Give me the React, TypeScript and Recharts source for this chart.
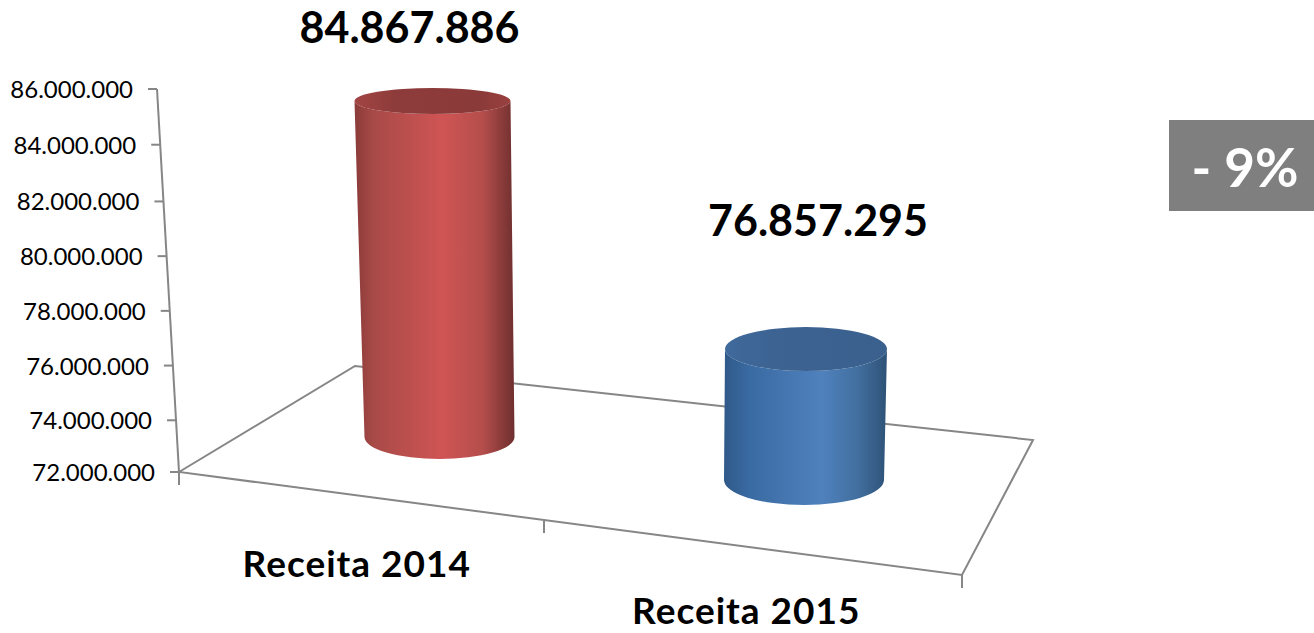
import React from "react";
import { BarChart, Bar, XAxis, YAxis, LabelList, Customized } from "recharts";

const categories = ["Receita 2014", "Receita 2015"];
const revenue = [84867886, 76857295];
const yTicks = [72000000, 74000000, 76000000, 78000000, 80000000, 82000000, 84000000, 86000000];
const badgeText = "- 9%";

const chartData = categories.map((name, i) => ({ name, value: revenue[i] }));

const FONT = "Lato, Carlito, sans-serif";
const fmt = (v: number) => String(v).replace(/\B(?=(\d{3})+(?!\d))/g, ".");

// Perspective placement of the 3D cylinders, relative to the scale-derived bar box
const projection = [
  { topDx: 58, baseDx: 65, topDy: -19, baseDy: -35, topRx: 78, baseRx: 75, topRy: 13, baseRy: 22, fill: "url(#redBody)", cap: "url(#redCap)" },
  { topDx: 40, baseDx: 38, topDy: 10, baseDy: 8, topRx: 81, baseRx: 80, topRy: 22, baseRy: 25, fill: "url(#blueBody)", cap: "url(#blueCap)" },
];
const labelPos = [{ dx: 35, baseline: 43 }, { dx: 52, baseline: 236 }];
const catLabelPos = [{ dx: -18, y: 577 }, { dx: -20, y: 624 }];

const Cylinder = (props: any) => {
  const { x, y, width, height, index } = props;
  const p = projection[index];
  const cx = x + width / 2;
  const tx = cx + p.topDx, bx = cx + p.baseDx;
  const ty = y + p.topDy, by = y + height + p.baseDy;
  const body = `M${tx - p.topRx},${ty} L${bx - p.baseRx},${by} A${p.baseRx},${p.baseRy} 0 0 0 ${bx + p.baseRx},${by} L${tx + p.topRx},${ty} A${p.topRx},${p.topRy} 0 0 1 ${tx - p.topRx},${ty} Z`;
  return (
    <g>
      <path d={body} fill={p.fill} />
      <ellipse cx={tx} cy={ty} rx={p.topRx} ry={p.topRy} fill={p.cap} />
    </g>
  );
};

const ValueLabel = (props: any) => {
  const { x, width, value, index } = props;
  const l = labelPos[index];
  return (
    <text x={x + width / 2 + l.dx} y={l.baseline} textAnchor="middle" fontFamily={FONT} fontWeight={700} fontSize={43} fill="#000">
      {fmt(value)}
    </text>
  );
};

const YTick = (props: any) => {
  const { y, payload, index } = props;
  const off = [0, 3, 3, 3, 3, 3, 1, 0];
  const yy = y + (off[index] ?? 0);
  const ax = 157 + ((yy - 89) * 22) / 383;
  return (
    <g>
      <line x1={ax - 9} x2={ax} y1={yy} y2={yy} stroke="#868686" strokeWidth={2} />
      <text x={ax - 24} y={yy + 9} textAnchor="end" fontFamily={FONT} fontSize={24} fill="#000">
        {fmt(payload.value)}
      </text>
    </g>
  );
};

const XTick = (props: any) => {
  const { x, payload, index } = props;
  const l = catLabelPos[index];
  return (
    <text x={x + l.dx} y={l.y} textAnchor="middle" fontFamily={FONT} fontWeight={700} fontSize={37} letterSpacing={1} fill="#000">
      {payload.value}
    </text>
  );
};

const Floor = () => (
  <g stroke="#868686" strokeWidth={2} fill="none">
    <path d="M179,472 L355,366 L1033,440 L962,575 Z" strokeLinejoin="miter" />
    <path d="M157,89 L179,472" />
    <path d="M179,472 V485 M544,521 V533 M962,575 V588" />
  </g>
);

const Badge = () => (
  <g>
    <rect x={1169} y={120} width={145} height={91} fill="#7f7f7f" />
    <text x={1245} y={187} textAnchor="middle" fontFamily={FONT} fontWeight={700} fontSize={53} fill="#fff">
      {badgeText}
    </text>
  </g>
);

export default function App() {
  return (
    <div style={{ position: "absolute", left: 0, top: 0, width: 1314, height: 633, background: "#fff" }}>
      <BarChart
        width={1314}
        height={633}
        data={chartData}
        margin={{ top: 89, right: 352, bottom: 61, left: 0 }}
      >
        <defs>
          <linearGradient id="redBody" x1="0" y1="0" x2="1" y2="0">
            <stop offset="0" stopColor="#8a3b39" />
            <stop offset="0.12" stopColor="#a84a48" />
            <stop offset="0.55" stopColor="#cf5554" />
            <stop offset="0.8" stopColor="#b54e4c" />
            <stop offset="1" stopColor="#6e2f2e" />
          </linearGradient>
          <linearGradient id="redCap" x1="0" y1="0" x2="1" y2="0">
            <stop offset="0" stopColor="#a34544" />
            <stop offset="0.25" stopColor="#8e3c3b" />
            <stop offset="0.8" stopColor="#8a3a39" />
            <stop offset="1" stopColor="#9a4140" />
          </linearGradient>
          <linearGradient id="blueBody" x1="0" y1="0" x2="1" y2="0">
            <stop offset="0" stopColor="#2f5988" />
            <stop offset="0.15" stopColor="#3a6aa2" />
            <stop offset="0.6" stopColor="#4f81bd" />
            <stop offset="0.82" stopColor="#426f9f" />
            <stop offset="1" stopColor="#2e5277" />
          </linearGradient>
          <linearGradient id="blueCap" x1="0" y1="0" x2="1" y2="0">
            <stop offset="0" stopColor="#406a9c" />
            <stop offset="0.3" stopColor="#3c6392" />
            <stop offset="1" stopColor="#3a608e" />
          </linearGradient>
        </defs>
        <Customized component={Floor} />
        <XAxis dataKey="name" height={100} axisLine={false} tickLine={false} tick={<XTick />} interval={0} />
        <YAxis
          width={179}
          domain={[72000000, 86000000]}
          ticks={yTicks}
          axisLine={false}
          tickLine={false}
          tick={<YTick />}
          interval={0}
        />
        <Bar dataKey="value" barSize={155} shape={<Cylinder />} isAnimationActive={false}>
          <LabelList dataKey="value" content={<ValueLabel />} />
        </Bar>
        <Customized component={Badge} />
      </BarChart>
    </div>
  );
}
